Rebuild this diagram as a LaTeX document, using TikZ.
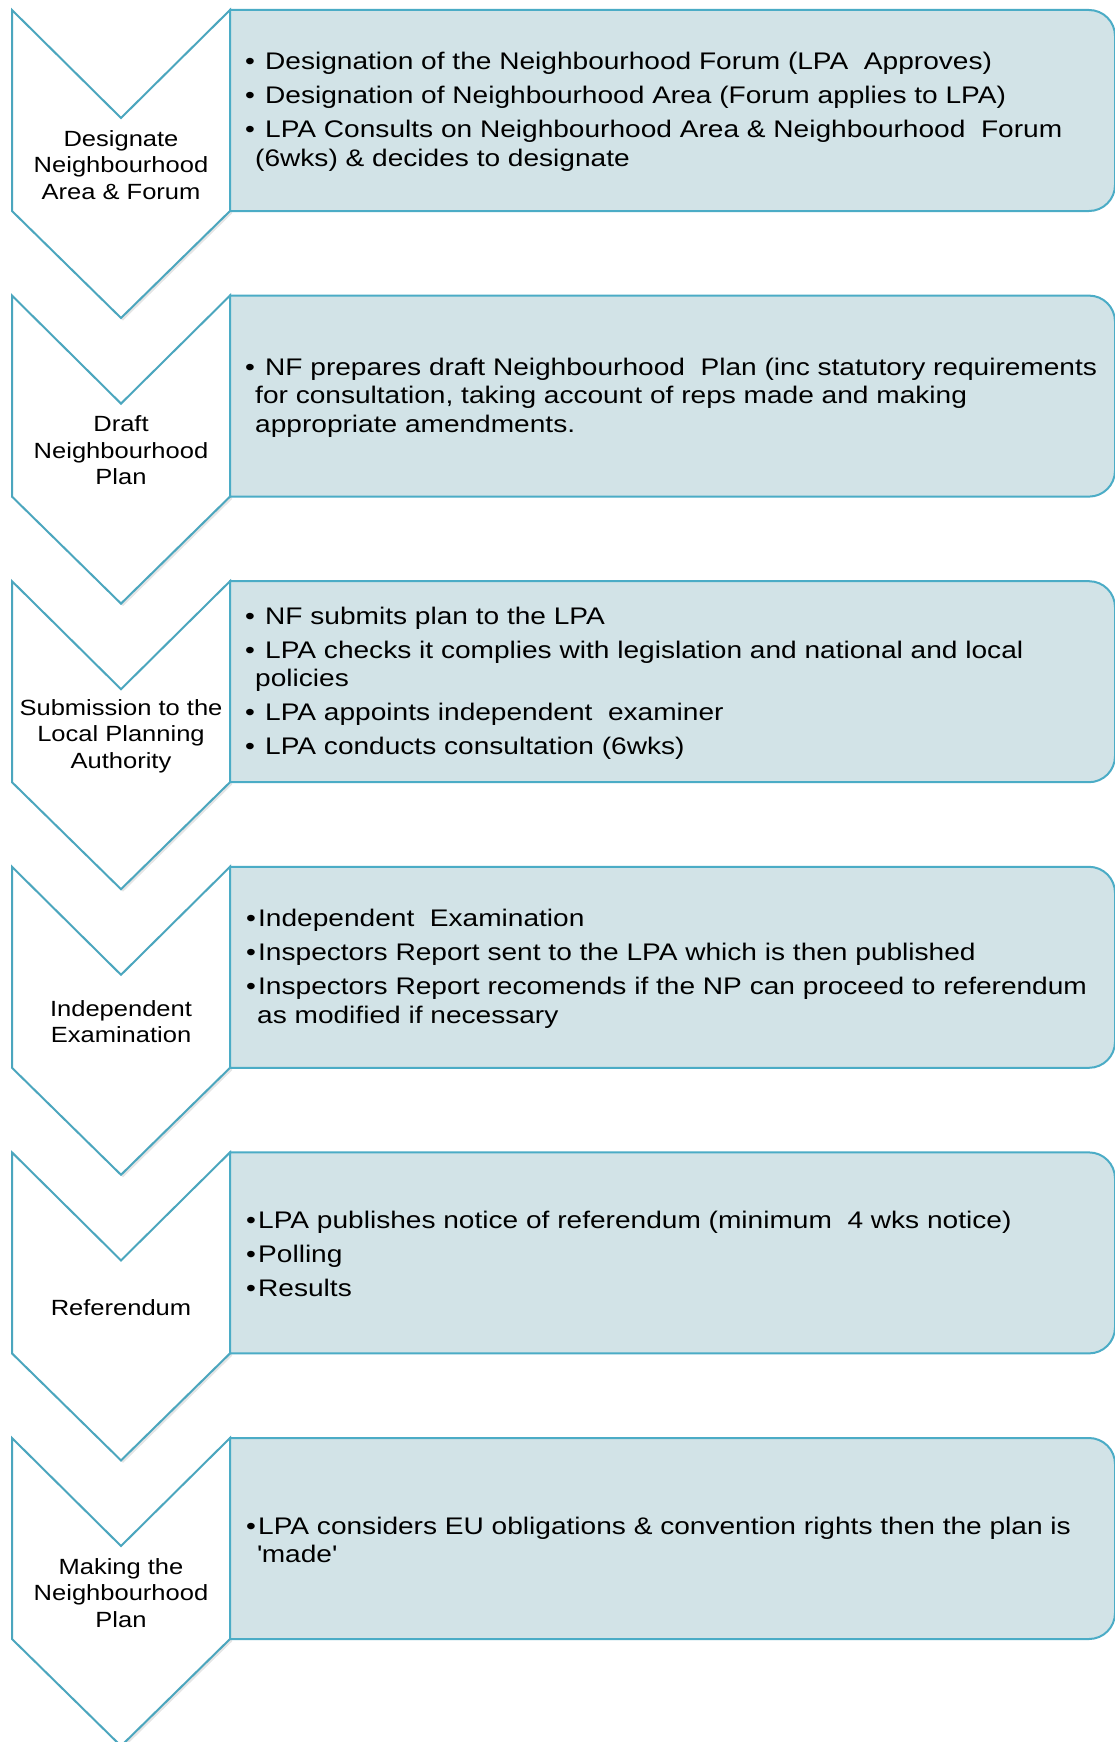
\documentclass[tikz,border=0pt]{standalone}
\usepackage{fontspec}
\setmainfont{Liberation Sans}
\newfontfamily\boxfont[FakeStretch=1.17]{Liberation Sans}
\newfontfamily\chevfont[FakeStretch=1.16]{Liberation Sans}
\definecolor{boxfill}{HTML}{D2E3E7}
\definecolor{boxline}{HTML}{4BACC6}
\definecolor{chevline}{HTML}{4BA6BE}
\newcommand{\bu}[1]{\makebox[#1][l]{\textbullet}}
\newcommand{\pgap}{\\[5.5pt]}
\tikzset{
  chevshape/.style={draw=chevline, line width=2pt, fill=white, line join=miter},
  chevshadow/.style={fill=black, opacity=0.10},
  boxshape/.style={draw=boxline, line width=2pt, fill=boxfill},
  chevtext/.style={align=center, inner sep=0pt, text=black, font=\chevfont\fontsize{22}{26.5}\selectfont},
  boxtext/.style={align=left, inner sep=0pt, anchor=west, text=black, font=\boxfont\fontsize{24}{28.5}\selectfont}
}
\newcommand{\stage}[5]{%
  \pgfmathsetmacro\t{10+285.6*#1}
  \begin{scope}[shift={(2,2.5)}]
    \fill[chevshadow] (12,\t) -- (121,\t+108) -- (230,\t) -- (230,\t+201) -- (121,\t+308) -- (12,\t+201) -- cycle;
  \end{scope}
  \draw[chevshape] (12,\t) -- (121,\t+108) -- (230,\t) -- (230,\t+201) -- (121,\t+308) -- (12,\t+201) -- cycle;
  \draw[boxshape] (230,\t) -- (1089,\t) arc[start angle=90, end angle=0, radius=26pt] -- (1115,\t+175) arc[start angle=0, end angle=-90, radius=26pt] -- (230,\t+201) -- cycle;
  \node[chevtext] (c#4) at (121,\t+155) {#2};
  \node[boxtext] (b#4) at (#5,\t+102) {#3};
}
\begin{document}
\begin{tikzpicture}[x=1pt,y=-1pt]
\useasboundingbox (0,0) rectangle (1114,1742);
\fill[white] (0,0) rectangle (1114,1742);

\stage{0}{Designate\\Neighbourhood\\Area \& Forum}{%
\bu{20pt}Designation of the Neighbourhood Forum (LPA\ \ Approves)\pgap
\bu{20pt}Designation of Neighbourhood Area (Forum applies to LPA)\pgap
\bu{20pt}LPA Consults on Neighbourhood Area \& Neighbourhood\ \ Forum\\
\hspace*{10pt}(6wks) \& decides to designate}{one}{245}

\stage{1}{Draft\\Neighbourhood\\Plan}{%
\bu{20pt}NF prepares draft Neighbourhood\ \ Plan (inc statutory requirements\\
\hspace*{10pt}for consultation, taking account of reps made and making\\
\hspace*{10pt}appropriate amendments.}{two}{245}

\stage{2}{Submission to the\\Local Planning\\Authority}{%
\bu{20pt}NF submits plan to the LPA\pgap
\bu{20pt}LPA checks it complies with legislation and national and local\\
\hspace*{10pt}policies\pgap
\bu{20pt}LPA appoints independent\ \ examiner\pgap
\bu{20pt}LPA conducts consultation (6wks)}{three}{245}

\stage{3}{Independent\\Examination}{%
\bu{12pt}Independent\ \ Examination\pgap
\bu{12pt}Inspectors Report sent to the LPA which is then published\pgap
\bu{12pt}Inspectors Report recomends if the NP can proceed to referendum\\
\hspace*{11pt}as modified if necessary}{four}{246}

\stage{4}{Referendum}{%
\bu{12pt}LPA publishes notice of referendum (minimum\ \ 4 wks notice)\pgap
\bu{12pt}Polling\pgap
\bu{12pt}Results}{five}{246}

\stage{5}{Making the\\Neighbourhood\\Plan}{%
\bu{12pt}LPA considers EU obligations \& convention rights then the plan is\\
\hspace*{11pt}\textquotesingle made\textquotesingle}{six}{246}
\end{tikzpicture}
\end{document}
